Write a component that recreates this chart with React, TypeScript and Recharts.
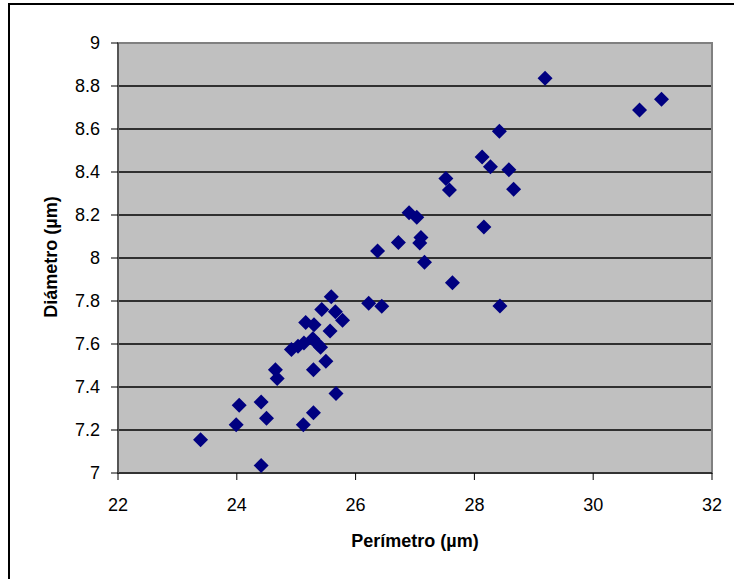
import { ScatterChart, Scatter, XAxis, YAxis, CartesianGrid, ReferenceArea, Label } from "recharts";

const perimetro = [
  23.39, 23.99, 24.04, 24.41, 24.41, 24.5, 24.65, 24.68, 24.92, 25.03, 25.13, 25.28,
  25.36, 25.41, 25.16, 25.3, 25.43, 25.59, 25.66, 25.78, 25.57, 25.5, 25.29, 25.67,
  25.29, 25.12, 26.22, 26.44, 26.37, 26.72, 26.9, 27.03, 27.1, 27.08, 27.16, 27.63,
  27.52, 27.58, 28.13, 28.27, 28.16, 28.42, 28.58, 28.66, 28.43, 29.19, 30.78, 31.15,
];
const diametro = [
  7.155, 7.225, 7.315, 7.035, 7.33, 7.255, 7.48, 7.44, 7.575, 7.59, 7.605, 7.625,
  7.6, 7.585, 7.7, 7.69, 7.76, 7.82, 7.75, 7.71, 7.66, 7.52, 7.48, 7.37,
  7.28, 7.225, 7.79, 7.776, 8.033, 8.072, 8.21, 8.19, 8.095, 8.07, 7.98, 7.885,
  8.37, 8.316, 8.47, 8.425, 8.144, 8.59, 8.41, 8.32, 7.777, 8.836, 8.688, 8.738,
];
const xTicks = [22, 24, 26, 28, 30, 32];
const yTicks = [7, 7.2, 7.4, 7.6, 7.8, 8, 8.2, 8.4, 8.6, 8.8, 9];

const points = perimetro.map((p, i) => ({ x: p, y: diametro[i] }));

const font = "Arial, 'Liberation Sans', sans-serif";

// rotated square like the old Excel marker
const Diamond = (props: any) => {
  const { cx, cy } = props;
  const r = 7.5;
  return (
    <polygon
      points={`${cx},${cy - r} ${cx + r},${cy} ${cx},${cy + r} ${cx - r},${cy}`}
      fill="#000080"
    />
  );
};

export default function App() {
  return (
    <div
      style={{
        position: "absolute",
        left: 0,
        top: 0,
        width: 734,
        height: 579,
        overflow: "hidden",
        background: "#fff",
      }}
    >
      <div
        style={{
          position: "absolute",
          left: 8,
          top: 3,
          width: 800,
          height: 700,
          border: "2px solid #000",
        }}
      />
      <div style={{ position: "absolute", left: 0, top: 0 }}>
        <ScatterChart
          width={734}
          height={579}
          margin={{ top: 43, right: 22, bottom: 0, left: 0 }}
          style={{ fontFamily: font }}
        >
          <CartesianGrid
            horizontal
            vertical={false}
            fill="#C0C0C0"
            stroke="#000"
            strokeWidth={1.5}
            fillOpacity={1}
          />
          <ReferenceArea
            x1={22}
            x2={32}
            y1={7}
            y2={9}
            fill="none"
            stroke="#808080"
            strokeWidth={2}
          />
          <XAxis
            type="number"
            dataKey="x"
            domain={[22, 32]}
            ticks={xTicks}
            allowDataOverflow
            height={106}
            tickSize={7}
            tickMargin={18}
            axisLine={{ stroke: "#333", strokeWidth: 2 }}
            tickLine={{ stroke: "#000" }}
            tick={{ fill: "#000", fontSize: 18, fontFamily: font }}
          >
            <Label
              content={(p: any) => {
                const vb = p.viewBox;
                return (
                  <text
                    x={vb.x + vb.width / 2}
                    y={vb.y + 68}
                    textAnchor="middle"
                    dominantBaseline="central"
                    fontSize={18}
                    fontWeight="bold"
                    fontFamily={font}
                    fill="#000"
                  >
                    Perímetro (µm)
                  </text>
                );
              }}
            />
          </XAxis>
          <YAxis
            type="number"
            dataKey="y"
            domain={[7, 9]}
            ticks={yTicks}
            allowDataOverflow
            width={118}
            tickSize={7}
            tickMargin={11}
            axisLine={{ stroke: "#555", strokeWidth: 2 }}
            tickLine={{ stroke: "#000" }}
            tick={{ fill: "#000", fontSize: 18, fontFamily: font }}
          >
            <Label
              content={(p: any) => {
                const vb = p.viewBox;
                const cx = vb.x + 51;
                const cy = vb.y + vb.height / 2 - 1;
                return (
                  <text
                    x={cx}
                    y={cy}
                    transform={`rotate(-90, ${cx}, ${cy})`}
                    textAnchor="middle"
                    dominantBaseline="central"
                    fontSize={18}
                    fontWeight="bold"
                    fontFamily={font}
                    fill="#000"
                  >
                    Diámetro (µm)
                  </text>
                );
              }}
            />
          </YAxis>
          <Scatter data={points} shape={Diamond} isAnimationActive={false} />
        </ScatterChart>
      </div>
    </div>
  );
}
